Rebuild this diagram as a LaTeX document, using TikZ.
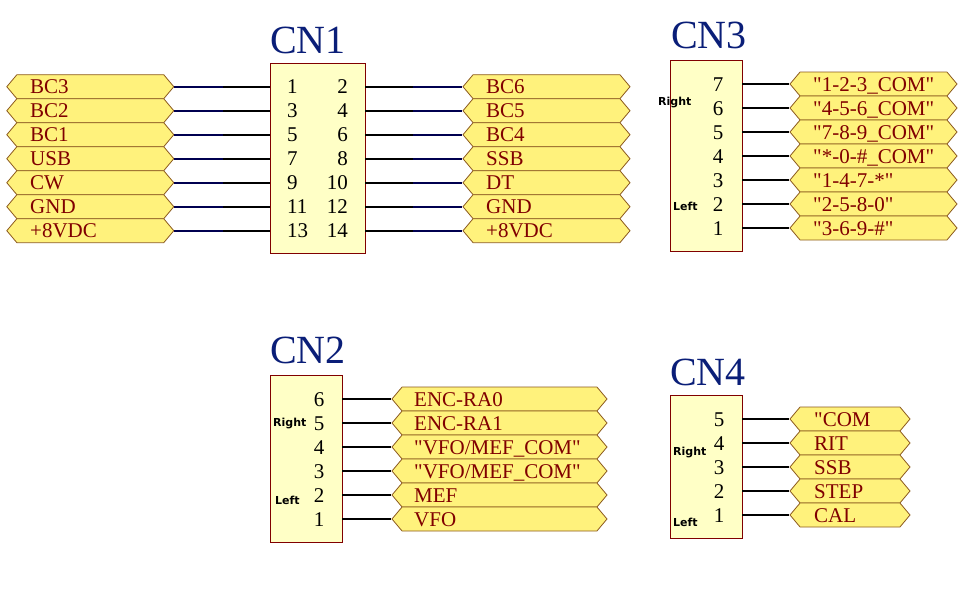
\documentclass[tikz,border=0pt]{standalone}
\usepackage{fontspec}
\setmainfont{Liberation Serif}[Ligatures=TeXOff]
\newfontfamily\lblsans{DejaVu Sans}
\usetikzlibrary{shapes.symbols}
\definecolor{lblfill}{HTML}{FFF27C}
\definecolor{lbledge}{HTML}{8C5A1E}
\definecolor{boxfill}{HTML}{FFFFC6}
\definecolor{boxedge}{HTML}{800000}
\definecolor{txtred}{HTML}{800000}
\definecolor{wirenavy}{HTML}{000050}
\definecolor{titlenavy}{HTML}{0A1E78}
\begin{document}
\begin{tikzpicture}[x=1pt,y=-1pt,
  netlbl/.style={signal, signal to=east and west, signal pointer angle=100,
    draw=lbledge, fill=lblfill, line width=0.8pt, minimum height=24pt, inner sep=0pt},
  nettxt/.style={text=txtred, font=\fontsize{21}{21}\selectfont, inner sep=0pt},
  pinnum/.style={text=black, font=\fontsize{21}{21}\selectfont, inner sep=0pt},
  connbox/.style={draw=boxedge, fill=boxfill, line width=0.9pt, inner sep=0pt},
  conntitle/.style={text=titlenavy, font=\fontsize{40}{40}\selectfont, inner sep=0pt, anchor=base west},
  sidetxt/.style={text=black, font=\lblsans\bfseries\fontsize{11}{11}\selectfont, inner sep=0pt, anchor=base west},
  pinline/.style={black, line width=2pt},
  wire/.style={wirenavy, line width=2pt}
]
\fill[white] (0,0) rectangle (970,600);
\useasboundingbox (0,0) rectangle (970,600);

% ---------------- CN1 ----------------
\node[conntitle] (cn1title) at (270,53) {CN1};
\node[connbox, minimum width=95pt, minimum height=190pt] (cn1box) at (317.5,158) {};
\foreach \name/\pin [count=\i from 0] in {BC3/1,BC2/3,BC1/5,USB/7,CW/9,GND/11,+8VDC/13}{
  \pgfmathsetmacro\yy{86.7+24*\i}
  \node[netlbl, minimum width=167pt] (cn1l\i) at (90.3,\yy) {};
  \node[nettxt, anchor=base west] (cn1lt\i) at (30,\yy+7) {\name};
  \coordinate (cn1lp\i) at (223,\yy);
  \node[pinnum, anchor=base west] (cn1ln\i) at (287,\yy+7) {\pin};
  \draw[pinline] (cn1box.west |- cn1lp\i) -- (cn1lp\i);
  \draw[wire] (cn1lp\i) -- (cn1l\i.east);
}
\foreach \name/\pin [count=\i from 0] in {BC6/2,BC5/4,BC4/6,SSB/8,DT/10,GND/12,+8VDC/14}{
  \pgfmathsetmacro\yy{86.7+24*\i}
  \node[netlbl, minimum width=167pt] (cn1r\i) at (546.5,\yy) {};
  \node[nettxt, anchor=base west] (cn1rt\i) at (486,\yy+7) {\name};
  \coordinate (cn1rp\i) at (413,\yy);
  \node[pinnum, anchor=base east] (cn1rn\i) at (348,\yy+7) {\pin};
  \draw[pinline] (cn1box.east |- cn1rp\i) -- (cn1rp\i);
  \draw[wire] (cn1rp\i) -- (cn1r\i.west);
}

% ---------------- CN3 ----------------
\node[conntitle] (cn3title) at (671,48) {CN3};
\node[connbox, minimum width=72pt, minimum height=191pt] (cn3box) at (706,155.5) {};
\foreach \name/\pin [count=\i from 0] in {{"1-2-3\_COM"}/7,{"4-5-6\_COM"}/6,{"7-8-9\_COM"}/5,{"*-0-\#\_COM"}/4,{"1-4-7-*"}/3,{"2-5-8-0"}/2,{"3-6-9-\#"}/1}{
  \pgfmathsetmacro\yy{84+24*\i}
  \node[netlbl, minimum width=167pt] (cn3l\i) at (873.5,\yy) {};
  \node[nettxt, anchor=base west] (cn3t\i) at (813,\yy+7) {\name};
  \node[pinnum, anchor=base] (cn3n\i) at (718,\yy+7) {\pin};
  \draw[pinline] (cn3box.east |- cn3l\i.west) -- (cn3l\i.west);
}
\node[sidetxt] (cn3right) at (658,105.7) {Right};
\node[sidetxt] (cn3left) at (673,210) {Left};

% ---------------- CN2 ----------------
\node[conntitle] (cn2title) at (270,363) {CN2};
\node[connbox, minimum width=72pt, minimum height=167pt] (cn2box) at (306,458.5) {};
\foreach \name/\pin [count=\i from 0] in {ENC-RA0/6,ENC-RA1/5,{"VFO/MEF\_COM"}/4,{"VFO/MEF\_COM"}/3,MEF/2,VFO/1}{
  \pgfmathsetmacro\yy{399+24*\i}
  \node[netlbl, minimum width=215pt] (cn2l\i) at (499.5,\yy) {};
  \node[nettxt, anchor=base west] (cn2t\i) at (414,\yy+7) {\name};
  \node[pinnum, anchor=base] (cn2n\i) at (319,\yy+7) {\pin};
  \draw[pinline] (cn2box.east |- cn2l\i.west) -- (cn2l\i.west);
}
\node[sidetxt] (cn2right) at (273,426.7) {Right};
\node[sidetxt] (cn2left) at (275,504) {Left};

% ---------------- CN4 ----------------
\node[conntitle] (cn4title) at (670,385) {CN4};
\node[connbox, minimum width=72pt, minimum height=143pt] (cn4box) at (706,466.5) {};
\foreach \name/\pin [count=\i from 0] in {{"COM}/5,RIT/4,SSB/3,STEP/2,CAL/1}{
  \pgfmathsetmacro\yy{419+24*\i}
  \node[netlbl, minimum width=120pt] (cn4l\i) at (850,\yy) {};
  \node[nettxt, anchor=base west] (cn4t\i) at (814,\yy+7) {\name};
  \node[pinnum, anchor=base] (cn4n\i) at (719,\yy+7) {\pin};
  \draw[pinline] (cn4box.east |- cn4l\i.west) -- (cn4l\i.west);
}
\node[sidetxt] (cn4right) at (673,455.7) {Right};
\node[sidetxt] (cn4left) at (673,526) {Left};
\end{tikzpicture}
\end{document}
